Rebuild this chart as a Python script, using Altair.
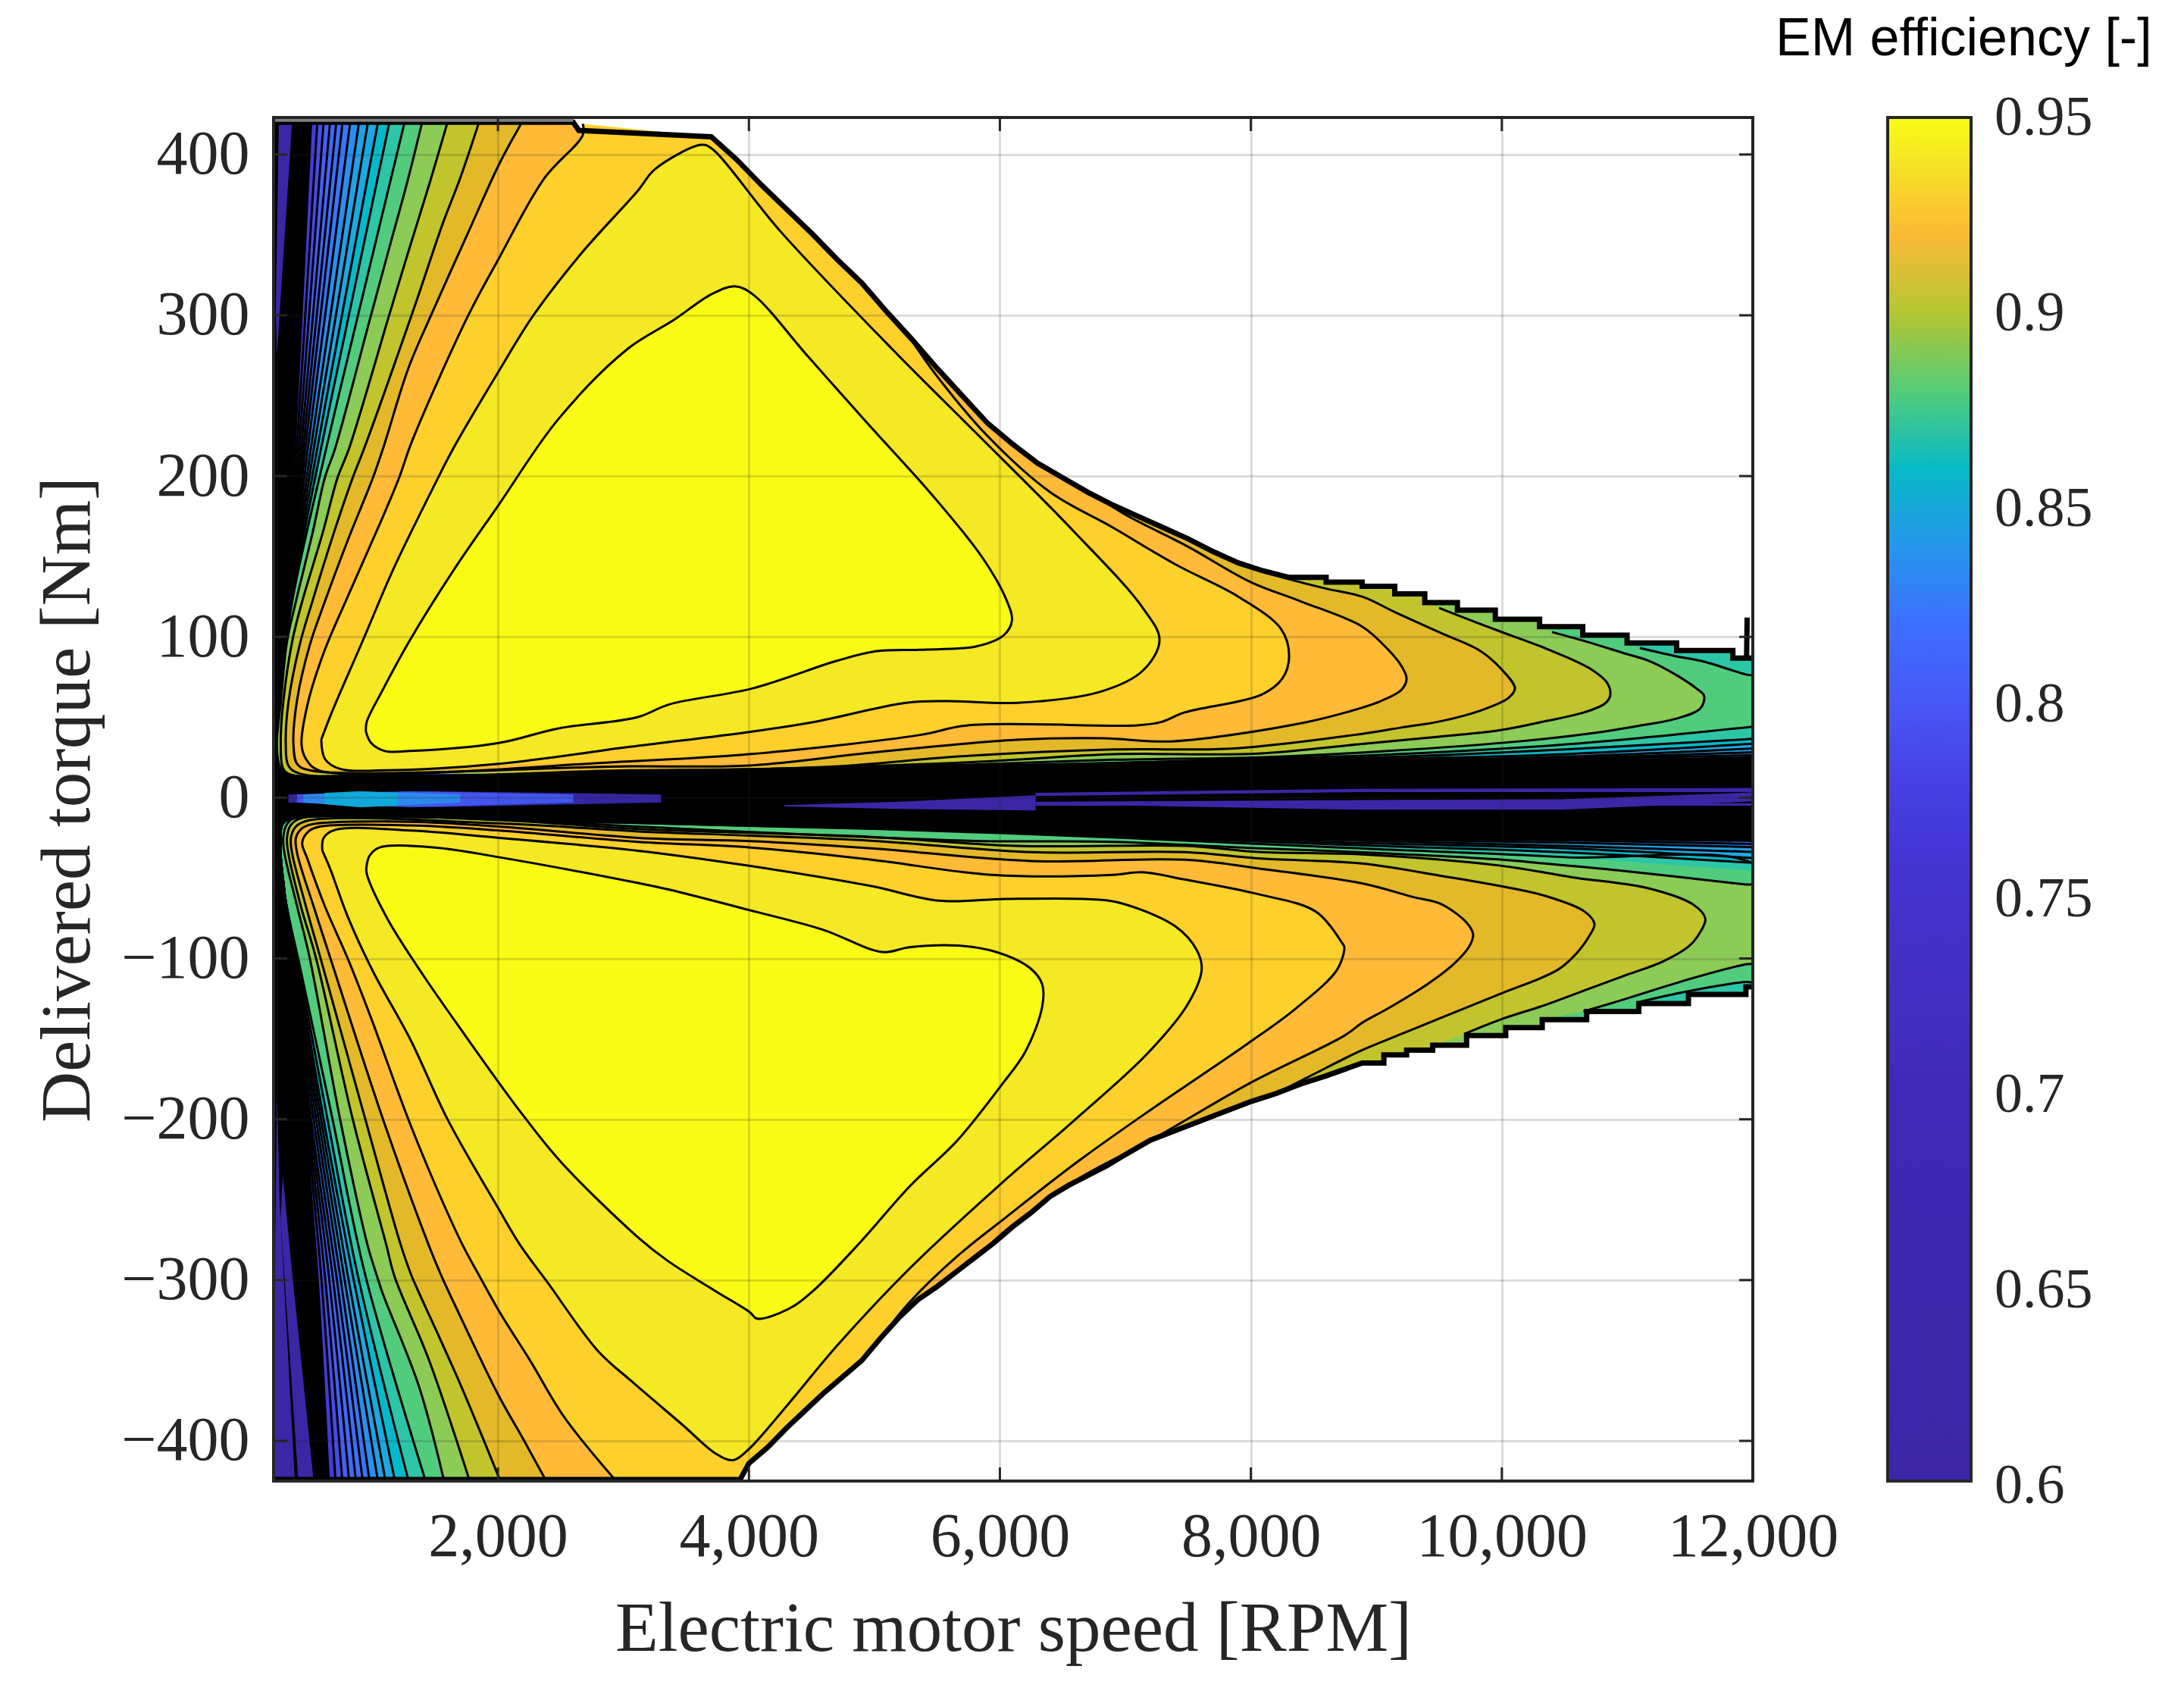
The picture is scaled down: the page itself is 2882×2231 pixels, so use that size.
import altair as alt
import pandas as pd

# ---------- scale / ticks ----------
X_TICKS = [2000, 4000, 6000, 8000, 10000, 12000]
Y_TICKS = [-400, -300, -200, -100, 0, 100, 200, 300, 400]
BAR_TICKS = [0.6, 0.65, 0.7, 0.75, 0.8, 0.85, 0.9, 0.95]
BAR_LABELS = ["0.6", "0.65", "0.7", "0.75", "0.8", "0.85", "0.9", "0.95"]
CMAP_STOPS = [.60, .65, .70, .728, .75, .767, .785, .80, .81, .823, .835, .85, .858, .872, .88, .8885, .90, .905, .912, .921, .93, .94, .95]
CMAP_COLORS = ["#3c26a6", "#3e28ae", "#4029b8", "#4330c4", "#4230cc", "#4438d8", "#4845e6", "#4858f5", "#4563ff", "#3a72ff",
               "#2a8df0", "#1ca9e0", "#00b8cc", "#33c8a0", "#55cc78", "#80cc60", "#b5c632", "#d4c025", "#e6b82a", "#ffba38",
               "#fdd02b", "#f5e824", "#f9fb15"]

# ---------- torque limit ----------
UP_LIMIT = [(212, 420), (2600, 420), (2644, 415), (3700, 411), (3900, 397), (4100, 381), (4300, 366), (4500, 351), (4700, 335),
            (4900, 320), (5100, 302), (5300, 285), (5500, 267), (5700, 250), (5900, 233), (6100, 220), (6300, 208), (6500, 199),
            (6700, 190), (6900, 182), (7100, 175), (7300, 168), (7500, 161), (7700, 153), (7900, 146), (8100, 141), (8300, 137),
            (8600, 134), (8887, 131.5), (9147, 126.8), (9386, 121.3), (9646, 116.6), (9948, 111), (10301, 106.4), (10645, 101),
            (10998, 96.2), (11393, 91.5), (11841, 86.8), (12100, 86.8)]
LOW_LIMIT = [(212, -424), (3930, -424), (4000, -414), (4150, -404), (4300, -392), (4450, -381), (4600, -370), (4750, -360),
             (4900, -350), (5050, -336), (5200, -323), (5350, -312), (5500, -304), (5650, -295), (5800, -286), (5950, -277),
             (6100, -267), (6250, -258), (6400, -248), (6550, -241), (6700, -235), (6850, -229), (7000, -222), (7200, -213),
             (7400, -207), (7600, -201), (7800, -195), (8000, -189), (8200, -184), (8400, -178), (8600, -173), (8887, -165), (9060, -160),
             (9241, -157), (9449, -154), (9719, -148), (10031, -143), (10322, -138), (10676, -133), (11092, -128),
             (11487, -122.4), (11945, -117.7), (12100, -117.7)]
SPIKE = [(11950, 86), (11955, 112)]
GREY_TOP = [(212, 421.5), (2600, 421.5)]

# ---------- upper lobe contours ----------
UP_A = [(948, 41), (954, 47), (1075, 66), (1299, 98), (1643, 141), (2005, 182), (2477, 235), (3032, 279), (3400, 297), (3700, 313),
        (3887, 318), (4031, 313), (4475, 274), (4919, 235), (5474, 187), (5863, 149), (6052, 123), (6096, 110), (6030, 101),
        (5807, 94), (5363, 92), (5008, 91), (4697, 85), (4031, 68), (3365, 58), (3110, 50), (2477, 43), (2005, 34), (1299, 29),
        (1099, 29), (990, 34), (948, 41)]
UP_B = [(592, 36), (676, 53), (936, 100), (1160, 141), (1498, 195), (1643, 217), (2005, 265), (2283, 300), (2670, 339), (3110, 377),
        (3254, 391), (3621, 406), (3698, 404), (4253, 352), (5141, 279), (5807, 227), (6584, 166), (7139, 118), (7272, 98), (7139, 79),
        (6806, 66), (6140, 59), (5585, 60), (5252, 59), (4512, 47), (4013, 41), (3050, 31.6), (2005, 21), (1099, 17), (737, 18), (622, 24), (592, 36)]
UP_C = [(2676, 419), (2676, 412), (2368, 385), (2005, 335), (1764, 300), (1317, 222), (1208, 198), (1057, 170), (797, 124), (616, 91),
        (483, 58), (435, 33), (471, 24), (574, 17), (3050, 22.6), (4000, 27), (5364, 39), (5744, 45), (7097, 45), (7284, 47),
        (7472, 53), (8083, 64), (8250, 74), (8305, 88), (8240, 105), (7900, 125), (7400, 145), (6900, 168), (6400, 190), (5900, 225), (5500, 262), (5300, 284)]
UP_D = [(2192, 420), (2010, 394), (1749, 349), (1467, 300), (1286, 267), (1084, 217), (1004, 199), (803, 160), (621, 122), (501, 95),
        (400, 61), (370, 34), (400, 21), (501, 17), (3050, 19.5), (4000, 20), (4977, 28), (6130, 36), (6825, 37), (7365, 35), (8444, 47),
        (8887, 56), (9033, 60), (9199, 67), (9241, 74), (9199, 82), (9095, 92), (8887, 106.4), (8400, 122), (8000, 134), (7500, 156), (7000, 176), (6800, 186)]
UP_E = [(1849, 420), (1698, 385), (1560, 357), (1334, 305), (933, 217), (843, 199), (702, 167), (521, 122), (420, 95), (330, 59), (309, 34),
        (330, 20), (420, 15), (3050, 17), (4590, 19), (5744, 26), (6904, 30), (7866, 30.6), (8887, 39.7), (9199, 43.6), (9511, 47.5),
        (9823, 54), (10052, 62), (10104, 68), (9989, 80.5), (9823, 91.5), (9511, 102.5), (9157, 115), (8887, 125), (8600, 130), (8300, 136), (8100, 141)]
UP_F = [(1598, 420), (1455, 382), (1292, 341), (1133, 300), (813, 217), (722, 199), (601, 164), (440, 122), (360, 97), (289, 59), (269, 34),
        (289, 18), (360, 14), (3050, 16), (5744, 22), (6904, 27), (8057, 27.4), (8887, 33.4), (9511, 38), (9989, 42), (10343, 47.5), (10655, 53),
        (10821, 58.5), (10863, 63.3), (10842, 71), (10697, 80.5), (10343, 93), (9989, 103.3), (9802, 108.8), (9500, 118)]
UP_G = [(1396, 420), (1278, 383), (1131, 341), (978, 297), (702, 217), (621, 199), (521, 164), (390, 122), (319, 97), (269, 59), (239, 34),
        (259, 20), (319, 14), (3050, 16), (5744, 20.5), (6904, 23.6), (8057, 25), (9090, 29), (10135, 35), (10759, 40.5), (11071, 44.4), (11383, 49),
        (11581, 55.4), (11612, 63.3), (11549, 68), (11383, 76.6), (11175, 85), (10967, 90), (10676, 97), (10400, 103)]
UP_H_RIGHT = [(12100, 45), (12100, 74), (11945, 76.6), (11591, 85), (11383, 88), (11100, 93)]

# ---------- lower lobe contours ----------
LOW_A = [(954, -42), (978, -36), (1057, -31), (1498, -31), (2005, -37), (3110, -53), (3352, -57), (4007, -70), (4585, -82), (5066, -96),
         (5278, -93), (5663, -92), (5971, -96), (6241, -106), (6337, -116), (6337, -130), (6203, -158), (6010, -179), (5663, -213),
         (5278, -242), (4893, -276), (4508, -307), (4315, -318), (4065, -324), (4007, -320), (3737, -307), (3352, -288), (3110, -273),
         (2507, -227), (2205, -198), (2005, -177), (1740, -148), (1401, -110), (1117, -75), (954, -47), (954, -42)]
LOW_B = [(601, -33), (611, -25), (702, -20), (1306, -20.5), (2010, -25), (3118, -33), (4013, -42.5), (4976, -55), (5509, -64), (6048, -63),
         (6665, -63), (6934, -65), (7397, -80), (7570, -95), (7608, -107), (7493, -129), (7165, -160), (6588, -201), (6010, -240), (5278, -293),
         (4700, -341), (4315, -377), (3988, -406), (3872, -412), (3737, -408), (3470, -390), (3066, -363), (2796, -344), (2391, -301), (2175, -278),
         (2000, -255), (1598, -200), (1306, -151), (1004, -108), (803, -74), (662, -44), (601, -33)]
LOW_C = [(2931, -424), (2526, -385), (2256, -350), (2014, -320), (1849, -297), (1717, -278), (1507, -242), (1286, -200), (984, -136), (803, -100),
         (621, -67.6), (480, -37.7), (440, -28), (491, -21), (581, -18), (1306, -17.3), (2010, -20.4), (3118, -27.5), (4013, -31), (4976, -38.6),
         (5939, -48), (6902, -48), (7133, -46.4), (7480, -51), (8058, -60), (8520, -71), (8732, -91), (8745, -93), (8687, -107), (8360, -131),
         (7974, -153), (7204, -194), (6626, -226), (6048, -261), (5663, -285), (5278, -314), (5100, -331)]
LOW_D = [(2378, -424), (2202, -399), (2000, -371), (1660, -316), (1547, -297), (1447, -278), (1084, -200), (682, -104), (531, -67.6), (400, -34.6),
         (390, -25), (440, -19), (521, -16.5), (1306, -15), (2010, -18), (3118, -25), (4013, -27), (4976, -31.5), (6247, -39.4), (7480, -38.6),
         (8058, -44), (8887, -53.3), (9303, -62), (9511, -66), (9719, -77.7), (9771, -85), (9740, -92.6), (9615, -103.6), (9407, -116), (9095, -131),
         (8887, -140), (8745, -148), (8005, -177), (7204, -213), (6626, -237), (6048, -269), (5900, -280)]
LOW_E = [(2014, -424), (1690, -363), (1360, -306), (1310, -297), (1225, -278), (943, -200), (601, -104), (470, -67.6), (360, -34.6), (350, -25),
         (390, -18), (501, -14), (2010, -16), (3118, -21), (4005, -23.6), (4976, -26.8), (6247, -33.9), (7480, -33.9), (8058, -37.8), (8887, -41),
         (9511, -48.6), (9989, -55), (10343, -61), (10655, -70.6), (10738, -78.5), (10697, -86), (10593, -97), (10447, -107), (9989, -122), (9511, -137),
         (9199, -147), (8887, -157), (8500, -172), (8250, -182)]
LOW_F = [(1771, -424), (1447, -349), (1177, -298), (1110, -278), (843, -200), (551, -100), (430, -67.6), (330, -34.6), (319, -25), (350, -17),
         (440, -12.6), (2010, -14), (3118, -19.5), (4976, -24.4), (6131, -30), (7480, -30), (8058, -33.8), (8887, -35.3), (9989, -42.3), (10551, -49.4),
         (11175, -56.5), (11529, -66.7), (11622, -75.3), (11570, -85), (11487, -92.6), (11279, -102), (10967, -111), (10655, -120), (10343, -129),
         (9989, -138), (9700, -147)]
LOW_G = [(1568, -424), (1370, -366), (1080, -308), (1034, -297), (960, -278), (742, -200), (501, -100), (400, -67.6), (299, -34.6), (289, -25), (319, -16.5),
         (400, -12), (2010, -13.4), (3118, -18), (5746, -26.8), (6902, -27.5), (8058, -31.5), (8887, -34), (9989, -38.5), (10343, -41), (10967, -45.5), (11945, -54),
         (12100, -55), (12100, -102), (11945, -103.6), (11487, -113), (10967, -125.6), (10650, -133)]
LOW_H_RIGHT = [(12100, -115), (11945, -114.6), (11383, -122), (11100, -127)]

# ---------- the tightly packed outer contours, H to S ----------
DENSE_LEVELS = [.879, .870, .859, .85, .845, .835, .825, .82, .815, .805, .79, .77]
UP_X_TOP = [1256, 1135, 1044, 964, 893, 823, 762, 712, 662, 611, 561, 511]
UP_X_300 = [885, 812, 757, 709, 666, 623, 587, 556, 526, 495, 465, 435]
UP_X_217 = [631, 590, 560, 533, 509, 485, 465, 448, 431, 414, 397, 380]
UP_X_122 = [360, 356, 351, 347, 343, 339, 335, 332, 328, 324, 320, 315]
UP_NOSE = [(250, 59), (235, 34), (250, 18), (320, 14.5)]
RUN_X = [3000, 6000, 9000, 10500, 12100]
UP_RUNS = [[16, 20, 26.5, 33, 45], [16, 19.8, 25, 30, 37], [16, 19.6, 24, 27, 34], [15.5, 19.4, 23, 25.5, 31],
           [15.5, 19.2, 22.5, 24.5, 28.5], [15.5, 19, 22, 24, 26.5], [15.5, 19, 21.5, 23, 25], [15, 18.8, 21, 22.5, 24],
           [15, 18.6, 21, 22, 23], [15, 18.5, 20.5, 21.5, 22], [15, 18.4, 20, 21, 21.5], [15, 18.3, 20, 20.5, 21]]
LOW_X_BOT = [1420, 1285, 1177, 1102, 1042, 975, 921, 867, 813, 759, 705, 651]
LOW_X_297 = [943, 883, 843, 803, 772, 742, 712, 682, 652, 621, 591, 561]
LOW_X_200 = [682, 642, 611, 591, 571, 551, 531, 511, 497, 484, 472, 460]
LOW_X_108 = [430, 420, 410, 400, 392, 385, 378, 372, 367, 363, 360, 358]
LOW_NOSE = [(300, -60), (265, -30), (285, -16), (360, -13)]
LOW_RUNS = [[-15.5, -22, -32, -37, -46], [-15.5, -21.5, -30, -34, -41], [-15, -21.2, -28.5, -31.5, -38], [-15, -21, -27, -30, -34],
            [-15, -20.8, -26, -28, -31], [-15, -20.6, -25, -26.5, -29], [-14.5, -20.4, -24.5, -25.5, -27], [-14.5, -20.2, -24, -25, -26],
            [-14.5, -20, -23.5, -24.5, -25], [-14, -20, -23, -24, -24.5], [-14, -20, -23, -23.5, -24], [-14, -20, -22.5, -23, -23.5]]

# ---------- patches ----------
PURPLE_PATCHES = [
    [(255, 423), (362, 423), (262, 303), (239, 275), (229, 303)],
    [(219, -424), (381, -424), (260, -250), (239, -184), (225, -280)],
    [(408, -424), (530, -424), (362, -297), (285, -235), (268, -262)],
    [(4283, -4.7), (5200, -2.5), (6285, 1.5), (6285, -8), (5200, -7), (4283, -5.5)],
    [(6285, 3), (8887, 5.5), (12100, 6), (12100, 3.5), (8887, 3.5), (6285, 1)],
    [(6285, -2.5), (8887, -1.5), (10468, -1), (12100, 3.5), (12100, -2), (10468, -7.5), (8887, -7.5), (7100, -5), (6285, -5)],
    [(10468, -3.5), (12100, -3.5), (12100, -5), (10468, -5)],
]
CENTER_PATCHES = [
    (.75, [(330, 2), (1500, 4), (3300, 2), (3300, -3), (1500, -6), (330, -3)]),
    (.81, [(400, 2), (1300, 4), (2600, 2), (2600, -3), (1300, -6), (400, -3)]),
    (.84, [(450, 2), (900, 4), (1700, 2), (1700, -3), (900, -6), (450, -3)]),
    (.855, [(620, 3), (900, 4), (1200, 3), (1200, -5), (900, -6), (620, -4)]),
]


def jagged(points, x_from):
    """Beyond x_from the torque limit is a visible staircase."""
    out = []
    for (x0, y0), (x1, _) in zip(points[:-1], points[1:]):
        out.append((x0, y0))
        if x0 >= x_from:
            out.append((x1, y0))
    out.append(points[-1])
    return out


UP_EDGE = jagged(UP_LIMIT, 8300)
LOW_EDGE = jagged(LOW_LIMIT, 8887)


def closed_on_limit(path, limit):
    """Follow a contour, then walk back along the torque limit to where it started."""
    x_start, x_end = path[0][0], path[-1][0]
    back = [p for p in limit if x_start < p[0] <= x_end][::-1]
    return path + back


fill_rows, smooth_rows, line_rows = [], [], []


def add(target, cid, level, path):
    for i, (x, y) in enumerate(path):
        target.append({"cid": cid, "level": level, "i": i, "x": x, "y": y})


# painter's order: lowest efficiency first
for j in range(len(DENSE_LEVELS) - 1, -1, -1):
    for side, head, edge in [
        ("up", [(UP_X_TOP[j], 420), (UP_X_300[j], 300), (UP_X_217[j], 217), (UP_X_122[j], 122)] + UP_NOSE + list(zip(RUN_X, UP_RUNS[j]))
         + (UP_H_RIGHT if j == 0 else []), UP_EDGE),
        ("low", [(LOW_X_BOT[j], -424), (LOW_X_297[j], -297), (LOW_X_200[j], -200), (LOW_X_108[j], -108)] + LOW_NOSE + list(zip(RUN_X, LOW_RUNS[j]))
         + (LOW_H_RIGHT if j == 0 else []), LOW_EDGE),
    ]:
        add(fill_rows, f"{side}{j}", DENSE_LEVELS[j], closed_on_limit(head, edge))
        add(line_rows, f"{side}{j}", DENSE_LEVELS[j], head)

for name, level, up, low in [("G", .891, UP_G, LOW_G), ("F", .902, UP_F, LOW_F), ("E", .911, UP_E, LOW_E),
                             ("D", .921, UP_D, LOW_D), ("C", .93, UP_C, LOW_C)]:
    add(fill_rows, "up" + name, level, closed_on_limit(up, UP_EDGE))
    add(fill_rows, "low" + name, level, closed_on_limit(low, LOW_EDGE))
    add(line_rows, "up" + name, level, up)
    add(line_rows, "low" + name, level, low)
for cid, level, path in [("upB", .94, UP_B), ("lowB", .94, LOW_B), ("upA", .95, UP_A), ("lowA", .95, LOW_A)]:
    add(smooth_rows, cid, level, path)
    add(line_rows, cid, level, path)

fills = pd.DataFrame(fill_rows)
smooth_fills = pd.DataFrame(smooth_rows)
lines = pd.DataFrame(line_rows)

base_path = UP_EDGE + LOW_EDGE[::-1]
base = pd.DataFrame([{"i": i, "x": x, "y": y} for i, (x, y) in enumerate(base_path)])

purple_rows = []
for k, patch in enumerate(PURPLE_PATCHES):
    add(purple_rows, f"p{k}", .6, patch)
purple = pd.DataFrame(purple_rows)
center_rows = []
for k, (lev, patch) in enumerate(CENTER_PATCHES):
    add(center_rows, f"c{k}", lev, patch)
center = pd.DataFrame(center_rows)

outline_rows = []
for cid, path in [("up", UP_EDGE), ("low", LOW_EDGE), ("spike", SPIKE)]:
    add(outline_rows, cid, 0, path)
outline = pd.DataFrame(outline_rows)
grey_top = pd.DataFrame([{"i": i, "x": x, "y": y} for i, (x, y) in enumerate(GREY_TOP)])

W, H = 1952, 1799
BAR_X, BAR_W = 2130, 110
INK = "#262626"
SERIF = "Liberation Serif"

x_enc = alt.X("x:Q", scale=alt.Scale(domain=[212, 12000], nice=False, zero=False),
              axis=alt.Axis(values=X_TICKS, format=",d", title="Electric motor speed [RPM]", tickSize=0, domain=False,
                            grid=True, gridColor=INK, gridOpacity=0.16, gridWidth=3, zindex=1,
                            labelFont=SERIF, labelFontSize=82, labelColor=INK, labelPadding=33, labelOverlap=False, labelFlush=False, labelLimit=500,
                            titleFont=SERIF, titleFontSize=93, titleFontWeight="normal", titleColor=INK, titlePadding=36))
y_enc = alt.Y("y:Q", scale=alt.Scale(domain=[-425, 423], nice=False, zero=False),
              axis=alt.Axis(values=Y_TICKS, format="d", title="Delivered torque [Nm]", tickSize=0, domain=False,
                            grid=True, gridColor=INK, gridOpacity=0.16, gridWidth=3, zindex=1,
                            labelFont=SERIF, labelFontSize=82, labelColor=INK, labelPadding=32, labelOverlap=False, labelLimit=500,
                            titleFont=SERIF, titleFontSize=93, titleFontWeight="normal", titleColor=INK, titlePadding=24))
fill_enc = alt.Fill("level:Q",
                    scale=alt.Scale(domain=CMAP_STOPS, range=CMAP_COLORS, interpolate="rgb"),
                    legend=alt.Legend(type="gradient", orient="none", legendX=BAR_X, legendY=0, direction="vertical", title=None,
                                      gradientLength=H, gradientThickness=BAR_W, gradientStrokeColor=INK, gradientStrokeWidth=4,
                                      values=[]))

base_layer = alt.Chart(base).mark_line(fill="black", stroke="black", clip=True).encode(x=x_enc, y=y_enc, order="i:Q")
center_layer = alt.Chart(center).mark_line(strokeWidth=0, fillOpacity=0.8, clip=True).encode(x="x:Q", y="y:Q", fill=fill_enc, detail="cid:N", order="i:Q")
purple_layer = alt.Chart(purple).mark_line(strokeWidth=0, clip=True).encode(x="x:Q", y="y:Q", fill=fill_enc, detail="cid:N", order="i:Q")
fill_layer = alt.Chart(fills).mark_line(strokeWidth=0, clip=True).encode(x="x:Q", y="y:Q", fill=fill_enc, detail="cid:N", order="i:Q")
smooth_layer = alt.Chart(smooth_fills).mark_line(strokeWidth=0, clip=True, interpolate="catmull-rom").encode(
    x="x:Q", y="y:Q", fill=fill_enc, detail="cid:N", order="i:Q")
line_layer = alt.Chart(lines).mark_line(stroke="black", strokeWidth=3, clip=True, interpolate="catmull-rom").encode(
    x="x:Q", y="y:Q", detail="cid:N", order="i:Q")
outline_layer = alt.Chart(outline).mark_line(stroke="black", strokeWidth=7, clip=True).encode(x="x:Q", y="y:Q", detail="cid:N", order="i:Q")
grey_layer = alt.Chart(grey_top).mark_line(stroke="#808080", strokeWidth=5, clip=True).encode(x="x:Q", y="y:Q", order="i:Q")

TICK_LEN = 18
xt = pd.DataFrame({"x": X_TICKS[:-1]})
yt = pd.DataFrame({"y": Y_TICKS})
tick_style = dict(color=INK, strokeWidth=3)
ticks = [
    alt.Chart(xt).mark_rule(**tick_style).encode(x="x:Q", y=alt.value(0), y2=alt.value(TICK_LEN)),
    alt.Chart(xt).mark_rule(**tick_style).encode(x="x:Q", y=alt.value(H - TICK_LEN), y2=alt.value(H)),
    alt.Chart(yt).mark_rule(**tick_style).encode(y="y:Q", x=alt.value(0), x2=alt.value(TICK_LEN)),
    alt.Chart(yt).mark_rule(**tick_style).encode(y="y:Q", x=alt.value(W - TICK_LEN), x2=alt.value(W)),
]
frame = alt.Chart(pd.DataFrame({"a": [0]})).mark_rect(filled=False, stroke=INK, strokeWidth=4).encode(
    x=alt.value(0), x2=alt.value(W), y=alt.value(0), y2=alt.value(H))

plot = alt.layer(base_layer, center_layer, purple_layer, fill_layer, smooth_layer, line_layer, outline_layer, grey_layer, *ticks, frame)

bar_ticks = alt.Chart(pd.DataFrame({"v": BAR_TICKS[1:-1]})).mark_rule(color=INK, strokeWidth=3).encode(
    y=alt.Y("v:Q", scale=alt.Scale(domain=[0.6, 0.95], nice=False, zero=False), axis=None),
    x=alt.value(BAR_X + BAR_W - 18), x2=alt.value(BAR_X + BAR_W))
bar_labels = alt.Chart(pd.DataFrame({"v": BAR_TICKS, "t": BAR_LABELS})).mark_text(
    font=SERIF, fontSize=74, color=INK, align="left", baseline="middle").encode(
    y=alt.Y("v:Q", scale=alt.Scale(domain=[0.6, 0.95], range=[H + 7, 1], nice=False, zero=False), axis=None),
    x=alt.value(BAR_X + BAR_W + 31), text="t:N")

chart = alt.layer(plot, bar_ticks, bar_labels).resolve_scale(y="independent").properties(
    width=W, height=H,
    padding={"left": 35, "top": 9, "right": 10, "bottom": 10},
    title=alt.TitleParams("EM efficiency [-]", font="Liberation Sans", fontSize=70, fontWeight="normal", color="black",
                          anchor="start", dx=2300, offset=31),
).configure_view(stroke=None)

chart.save("out.html", embed_options={"renderer": "svg", "actions": False})
